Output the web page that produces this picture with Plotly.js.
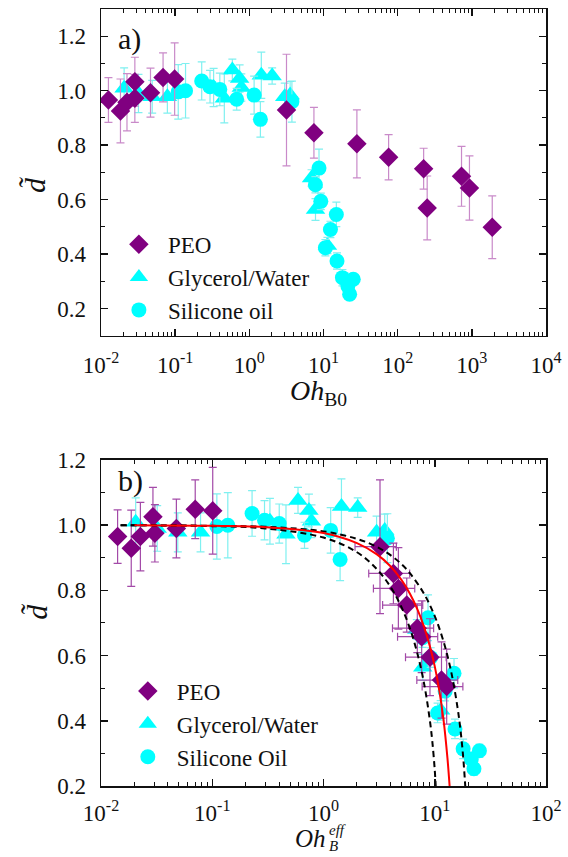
<!DOCTYPE html>
<html><head><meta charset="utf-8">
<script src="https://cdn.plot.ly/plotly-3.0.1.min.js"></script>
<style>html,body{margin:0;padding:0;background:#fff;} #chart{width:568px;height:857px;}</style>
</head><body><div id="chart"></div><script>
// ---------- Panel a data (x = Oh_B0) ----------
const peoA_x = [0.0126, 0.0183, 0.0224, 0.0286, 0.0286, 0.0465, 0.0687, 0.0984, 3.17, 7.43, 28.2, 75.5, 224, 250, 726, 929, 1884];
const peoA_y = [0.966, 0.926, 0.958, 1.033, 0.972, 0.993, 1.049, 1.043, 0.929, 0.846, 0.805, 0.756, 0.714, 0.570, 0.686, 0.643, 0.499];
const peoA_err = [0.082, 0.117, 0.105, 0.09, 0.088, 0.09, 0.09, 0.133, 0.205, 0.093, 0.125, 0.083, 0.075, 0.117, 0.11, 0.118, 0.115];

// ---------- Glycerol/Water (same x in both panels) ----------
const gly_x = [0.0205, 0.032, 0.049, 0.0785, 0.33, 0.46, 0.59, 0.74, 0.78, 1.45, 2.03, 3.0, 3.55, 6.9, 7.8, 11.3];
const gly_y = [1.009, 0.99, 0.978, 0.978, 1.012, 0.972, 1.076, 1.045, 1.012, 1.057, 1.054, 0.978, 0.984, 0.68, 0.564, 0.432];
const gly_err = [0.075, 0.07, 0.06, 0.06, 0.07, 0.09, 0.04, 0.05, 0.05, 0.085, 0.03, 0.05, 0.05, 0.03, 0.04, 0.03];

// ---------- Silicone oil (same x in both panels) ----------
const sil_x = [0.11, 0.138, 0.228, 0.295, 0.40, 0.675, 1.16, 1.41, 3.75, 8.7, 7.78, 9.2, 14.9, 12.4, 10.6, 15.2, 18.0, 25.2, 21.3, 22.5];
const sil_y = [0.996, 1.0, 1.036, 1.015, 1.005, 0.969, 0.984, 0.895, 0.96, 0.716, 0.655, 0.594, 0.546, 0.491, 0.424, 0.375, 0.314, 0.308, 0.283, 0.253];
const sil_err = [0.1, 0.1, 0.07, 0.06, 0.06, 0.04, 0.07, 0.065, 0.075, 0.07, 0.03, 0.03, 0.045, 0.03, 0.03, 0.03, 0.03, 0.02, 0.02, 0.02];

// ---------- Panel b PEO (x = Oh_B^eff) ----------
const peoB_x = [0.0141, 0.0187, 0.0226, 0.0293, 0.0305, 0.0476, 0.0703, 0.101, 3.22, 4.25, 4.71, 5.6, 6.97, 7.63, 9.06, 11.5, 12.8];
const peoB_y = [0.965, 0.929, 0.965, 1.026, 0.975, 0.99, 1.049, 1.044, 0.934, 0.852, 0.806, 0.755, 0.684, 0.658, 0.595, 0.525, 0.505];
const peoB_err = [0.082, 0.117, 0.105, 0.09, 0.088, 0.09, 0.09, 0.133, 0.205, 0.093, 0.125, 0.083, 0.075, 0.11, 0.118, 0.117, 0.115];
const peoB_errx = [0, 0, 0, 0, 0, 0, 0, 0, 1.3, 1.7, 1.9, 2.2, 2.8, 3.0, 3.6, 4.6, 5.1];

// ---------- Panel b model curves ----------
const red_x = [0.02, 0.1, 0.3, 1, 2, 3, 4, 5, 6, 7, 8, 9, 10, 11, 12, 13, 13.6];
const red_y = [1.0, 0.998, 0.994, 0.976, 0.945, 0.911, 0.874, 0.833, 0.789, 0.741, 0.689, 0.631, 0.567, 0.492, 0.402, 0.286, 0.2];
const dashL_x = [0.015, 0.1, 0.3, 1, 2, 3, 4, 5, 6, 7, 8, 9, 9.5, 10, 10.2];
const dashL_y = [1.0, 0.997, 0.990, 0.962, 0.917, 0.866, 0.811, 0.750, 0.682, 0.605, 0.516, 0.406, 0.338, 0.249, 0.2];
const dashR_x = [0.015, 0.1, 0.3, 1, 2, 3, 4, 5, 6, 8, 10, 12, 14, 16, 17, 18, 18.8];
const dashR_y = [1.0, 0.998, 0.995, 0.981, 0.958, 0.934, 0.908, 0.881, 0.852, 0.79, 0.721, 0.643, 0.553, 0.442, 0.374, 0.29, 0.2];

const xTicksA = [0.01, 0.1, 1, 10, 100, 1000, 10000];
const xTickTextA = ['10<sup>-2</sup>', '10<sup>-1</sup>', '10<sup>0</sup>', '10<sup>1</sup>', '10<sup>2</sup>', '10<sup>3</sup>', '10<sup>4</sup>'];
const xTicksB = [0.01, 0.1, 1, 10, 100];
const xTickTextB = ['10<sup>-2</sup>', '10<sup>-1</sup>', '10<sup>0</sup>', '10<sup>1</sup>', '10<sup>2</sup>'];
const yTicks = [0.2, 0.4, 0.6, 0.8, 1.0, 1.2];

const FONT = 'Liberation Serif, Times New Roman, serif';
const PURPLE = '#800080', PURPLE_ERR_A = '#c98ac9', PURPLE_ERR_B = '#a34aa8';
const CYAN = '#00ffff', CYAN_ERR = '#7ff0f0';

function minorVals(lo, hi) {
  const v = [];
  for (let d = lo; d < hi; d++) for (let k = 2; k <= 9; k++) v.push(k * Math.pow(10, d));
  return v;
}

const SIZES = {'diamond': 15, 'circle': 15, 'triangle-up': 17};

function pts(name, x, y, err, sym, col, ecol, xa, ya, leg, rank, errx) {
  const t = {
    type: 'scatter', mode: 'markers', name: name, x: x, y: y,
    xaxis: xa, yaxis: ya, legend: leg, legendrank: rank,
    marker: {symbol: sym, size: SIZES[sym], color: col, line: {width: 0}},
    error_y: {type: 'data', array: err, visible: true, color: ecol, thickness: 1.2, width: 4},
    cliponaxis: true
  };
  if (errx) t.error_x = {type: 'data', array: errx, visible: true, color: ecol, thickness: 1.2, width: 4};
  return t;
}

const traces = [
  pts('Glycerol/Water', gly_x, gly_y, gly_err, 'triangle-up', CYAN, CYAN_ERR, 'x', 'y', 'legend', 2),
  pts('Silicone oil', sil_x, sil_y, sil_err, 'circle', CYAN, CYAN_ERR, 'x', 'y', 'legend', 3),
  pts('PEO', peoA_x, peoA_y, peoA_err, 'diamond', PURPLE, PURPLE_ERR_A, 'x', 'y', 'legend', 1),
  pts('Glycerol/Water', gly_x, gly_y, gly_err, 'triangle-up', CYAN, CYAN_ERR, 'x2', 'y2', 'legend2', 2),
  pts('Silicone Oil', sil_x, sil_y, sil_err, 'circle', CYAN, CYAN_ERR, 'x2', 'y2', 'legend2', 3),
  pts('PEO', peoB_x, peoB_y, peoB_err, 'diamond', PURPLE, PURPLE_ERR_B, 'x2', 'y2', 'legend2', 1, peoB_errx),
  {type: 'scatter', mode: 'lines', x: dashL_x, y: dashL_y, xaxis: 'x2', yaxis: 'y2', showlegend: false,
   line: {color: '#000', width: 2, dash: '6px,4px', shape: 'spline'}},
  {type: 'scatter', mode: 'lines', x: dashR_x, y: dashR_y, xaxis: 'x2', yaxis: 'y2', showlegend: false,
   line: {color: '#000', width: 2, dash: '6px,4px', shape: 'spline'}},
  {type: 'scatter', mode: 'lines', x: red_x, y: red_y, xaxis: 'x2', yaxis: 'y2', showlegend: false,
   line: {color: '#ff0000', width: 2, shape: 'spline'}}
];

const axCommon = {
  showline: true, linecolor: '#111', linewidth: 1.5, mirror: 'allticks',
  ticks: 'inside', ticklen: 7, tickwidth: 1.5, tickcolor: '#111',
  showgrid: false, zeroline: false,
  tickfont: {family: FONT, size: 23, color: '#111'}
};

const layout = {
  width: 568, height: 857,
  margin: {l: 101, r: 22, t: 9, b: 71},
  paper_bgcolor: '#fff', plot_bgcolor: '#fff',
  font: {family: FONT, size: 22, color: '#111'},
  showlegend: true,
  xaxis: Object.assign({}, axCommon, {
    type: 'log', range: [-2, 4], domain: [0, 1], anchor: 'y',
    tickmode: 'array', tickvals: xTicksA, ticktext: xTickTextA, ticklabelstandoff: 8,
    minor: {ticks: 'inside', ticklen: 4, tickwidth: 1, tickcolor: '#111', tickmode: 'array', tickvals: minorVals(-2, 4)}
  }),
  yaxis: Object.assign({}, axCommon, {
    range: [0.1, 1.3], domain: [0.5792, 1], anchor: 'x',
    tickmode: 'array', tickvals: yTicks, tickformat: '.1f', ticklabelstandoff: 9,
    minor: {ticks: 'inside', ticklen: 4, tickwidth: 1, tickcolor: '#111', dtick: 0.1, tick0: 0.1}
  }),
  xaxis2: Object.assign({}, axCommon, {
    type: 'log', range: [-2, 2], domain: [0, 1], anchor: 'y2',
    tickmode: 'array', tickvals: xTicksB, ticktext: xTickTextB, ticklabelstandoff: 6,
    minor: {ticks: 'inside', ticklen: 4, tickwidth: 1, tickcolor: '#111', tickmode: 'array', tickvals: minorVals(-2, 2)}
  }),
  yaxis2: Object.assign({}, axCommon, {
    range: [0.2, 1.2], domain: [0, 0.4196], anchor: 'x2',
    tickmode: 'array', tickvals: yTicks, tickformat: '.1f', ticklabelstandoff: 9,
    minor: {ticks: 'inside', ticklen: 4, tickwidth: 1, tickcolor: '#111', dtick: 0.1, tick0: 0.1}
  }),
  legend: {x: 0.02, y: 0.725, xanchor: 'left', yanchor: 'top', bgcolor: 'rgba(0,0,0,0)',
           font: {family: FONT, size: 23, color: '#111'}, itemwidth: 48, tracegroupgap: 0},
  legend2: {x: 0.04, y: 0.15, xanchor: 'left', yanchor: 'top', bgcolor: 'rgba(0,0,0,0)',
           font: {family: FONT, size: 23, color: '#111'}, itemwidth: 48, tracegroupgap: 0},
  annotations: [
    {text: 'a)', xref: 'x domain', yref: 'y domain', x: 0.034, y: 0.908, xanchor: 'left', yanchor: 'middle',
     showarrow: false, font: {family: FONT, size: 30, color: '#111'}},
    {text: 'b)', xref: 'x2 domain', yref: 'y2 domain', x: 0.034, y: 0.936, xanchor: 'left', yanchor: 'middle',
     showarrow: false, font: {family: FONT, size: 30, color: '#111'}},
    {text: '<i>d\u0303</i>', xref: 'paper', yref: 'y domain', x: -0.148, y: 0.462, xanchor: 'center', yanchor: 'middle',
     textangle: -90, showarrow: false, font: {family: FONT, size: 30, color: '#111'}},
    {text: '<i>d\u0303</i>', xref: 'paper', yref: 'y2 domain', x: -0.144, y: 0.534, xanchor: 'center', yanchor: 'middle',
     textangle: -90, showarrow: false, font: {family: FONT, size: 30, color: '#111'}},
    {text: '<i>Oh</i><sub>B0</sub>', xref: 'paper', yref: 'paper', x: (318 - 101) / 445, y: (786 - 392) / 777,
     xanchor: 'center', yanchor: 'middle', showarrow: false, font: {family: FONT, size: 28, color: '#111'}},
    {text: '<i>Oh</i>', xref: 'paper', yref: 'paper', x: (328 - 101) / 445, y: (786 - 838) / 777,
     xanchor: 'right', yanchor: 'middle', showarrow: false, font: {family: FONT, size: 25, color: '#111'}},
    {text: '<i>eff</i>', xref: 'paper', yref: 'paper', x: (327 - 101) / 445, y: (786 - 830) / 777,
     xanchor: 'left', yanchor: 'middle', showarrow: false, font: {family: FONT, size: 15, color: '#111'}},
    {text: '<i>B</i>', xref: 'paper', yref: 'paper', x: (327 - 101) / 445, y: (786 - 846) / 777,
     xanchor: 'left', yanchor: 'middle', showarrow: false, font: {family: FONT, size: 15, color: '#111'}}
  ]
};

Plotly.newPlot('chart', traces, layout, {displayModeBar: false, staticPlot: true});
</script></body></html>
